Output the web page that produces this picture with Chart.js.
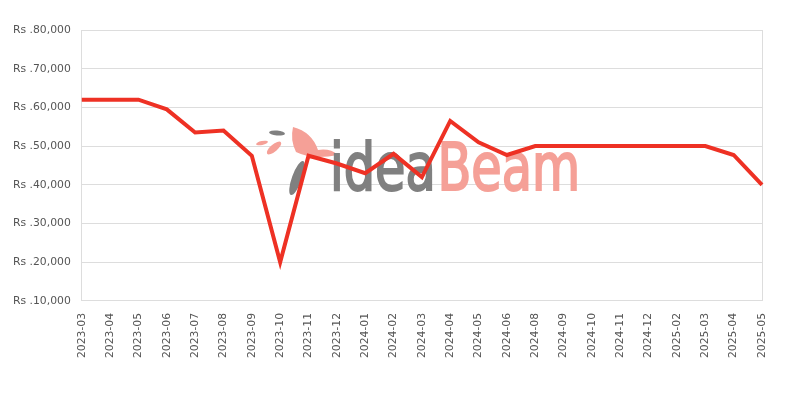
<!DOCTYPE html>
<html>
<head>
<meta charset="utf-8">
<script src="https://cdn.jsdelivr.net/npm/chart.js@4/dist/chart.umd.min.js"></script>
<style>
html,body{margin:0;padding:0;background:#fff;}
#wrap{width:800px;height:400px;}
</style>
</head>
<body>
<div id="wrap"><canvas id="c" width="800" height="400"></canvas></div>
<script>
const labels = ["2023-03","2023-04","2023-05","2023-06","2023-07","2023-08","2023-09","2023-10","2023-11","2023-12","2024-01","2024-02","2024-03","2024-04","2024-05","2024-06","2024-08","2024-09","2024-10","2024-11","2024-12","2025-02","2025-03","2025-04","2025-05"];
const prices = [62000,62000,62000,59500,53500,54000,47500,20000,47500,45500,43000,48000,42000,56500,51000,47700,50000,50000,50000,50000,50000,50000,50000,47700,40000];
const yMin = 10000, yMax = 80000, yStep = 10000;

const watermark = {
  id: 'watermark',
  beforeDatasetsDraw(chart) {
    const ctx = chart.ctx;
    ctx.save();
    // simple bird mark
    ctx.fillStyle = 'rgb(245,160,151)';
    ctx.beginPath();
    ctx.moveTo(293, 127);
    ctx.quadraticCurveTo(312, 132, 318, 150);
    ctx.quadraticCurveTo(330, 148, 338, 155);
    ctx.quadraticCurveTo(312, 160, 296, 152);
    ctx.quadraticCurveTo(290, 140, 293, 127);
    ctx.fill();
    ctx.beginPath();
    ctx.ellipse(274, 148, 9, 3.5, -0.7, 0, Math.PI * 2);
    ctx.fill();
    ctx.beginPath();
    ctx.ellipse(262, 143, 6, 2, -0.2, 0, Math.PI * 2);
    ctx.fill();
    ctx.fillStyle = 'rgb(128,128,128)';
    ctx.beginPath();
    ctx.ellipse(277, 133, 8, 2.5, 0.1, 0, Math.PI * 2);
    ctx.fill();
    ctx.beginPath();
    ctx.ellipse(297, 178, 5, 18, 0.35, 0, Math.PI * 2);
    ctx.fill();
    // text
    ctx.font = '66px "DejaVu Sans Condensed", "DejaVu Sans", sans-serif';
    ctx.textBaseline = 'alphabetic';
    const wI = ctx.measureText('idea').width;
    const wB = ctx.measureText('Beam').width;
    const sx = 250 / (wI + wB + 2);
    ctx.translate(330, 190);
    ctx.scale(sx, 1);
    ctx.lineWidth = 2;
    ctx.fillStyle = 'rgb(128,128,128)';
    ctx.strokeStyle = 'rgb(128,128,128)';
    ctx.fillText('idea', 0, 0);
    ctx.strokeText('idea', 0, 0);
    ctx.fillStyle = 'rgb(245,160,151)';
    ctx.strokeStyle = 'rgb(245,160,151)';
    ctx.fillText('Beam', wI + 2, 0);
    ctx.strokeText('Beam', wI + 2, 0);
    ctx.restore();
  }
};

const FONT = { size: 10.8, family: '"DejaVu Sans", Verdana, sans-serif' };

new Chart(document.getElementById('c'), {
  type: 'line',
  data: {
    labels: labels,
    datasets: [{
      data: prices,
      borderColor: 'rgb(238,49,36)',
      backgroundColor: 'rgb(238,49,36)',
      borderWidth: 4,
      pointRadius: 0,
      tension: 0,
      fill: false
    }]
  },
  options: {
    responsive: false,
    animation: false,
    layout: { padding: { top: 30, right: 38, bottom: 30, left: 2 } },
    plugins: { legend: { display: false }, tooltip: { enabled: false } },
    scales: {
      x: {
        grid: {
          drawTicks: false,
          color: (c) => (c.index === labels.length - 1) ? '#dddddd' : 'rgba(0,0,0,0)'
        },
        border: { color: '#dddddd' },
        ticks: {
          autoSkip: false, maxRotation: 90, minRotation: 90, padding: 12,
          color: '#555', font: FONT
        }
      },
      y: {
        min: yMin, max: yMax,
        grid: { drawTicks: false, color: '#dddddd' },
        border: { color: '#dddddd' },
        ticks: {
          stepSize: yStep, padding: 11,
          color: '#555', font: FONT,
          callback: (v) => 'Rs .' + v.toLocaleString('en-US')
        }
      }
    }
  },
  plugins: [watermark]
});
</script>
</body>
</html>
